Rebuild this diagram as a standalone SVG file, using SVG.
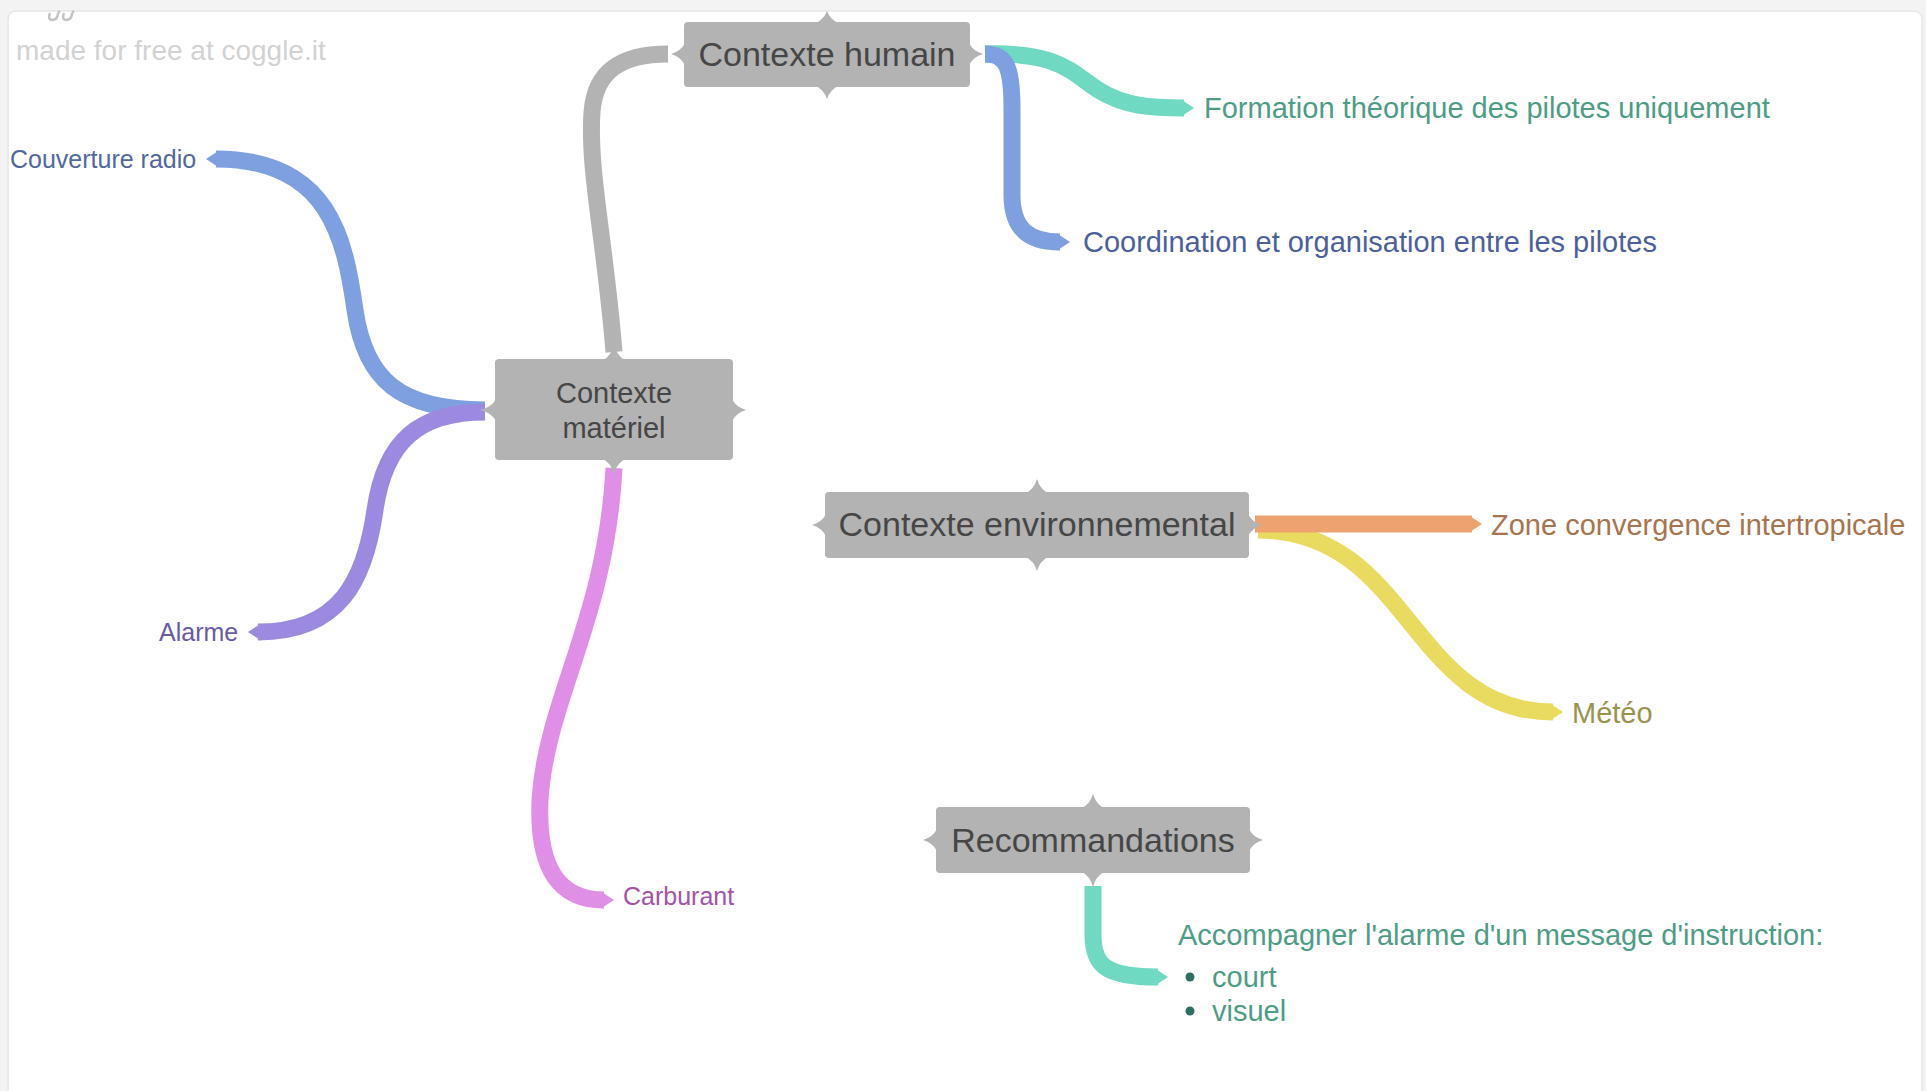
<svg xmlns="http://www.w3.org/2000/svg" width="1926" height="1091" viewBox="0 0 1926 1091">
<defs>
<style>
.bg{fill:#f3f3f3}
.panel{fill:#ffffff;stroke:#e6e6e6;stroke-width:1.5}
.node rect,.node path{fill:#b3b3b3}
.ntext{font-family:"Liberation Sans",Arial,sans-serif;fill:#464646;text-anchor:middle}
.lbl{font-family:"Liberation Sans",Arial,sans-serif;font-size:29px}
.lbls{font-family:"Liberation Sans",Arial,sans-serif;font-size:25px}
.br{fill:none;stroke-width:17;stroke-linecap:butt}
.wm{font-family:"Liberation Sans",Arial,sans-serif;font-size:28px;fill:#d2d2d2}
</style>
</defs>
<rect class="bg" x="0" y="0" width="1926" height="1091"/>
<rect class="panel" x="8" y="11" width="1914" height="1100" rx="8"/>
<g id="watermark">
<path d="M 50 13 Q 47 20 53 20 Q 58 19 58 13 M 58 13 L 60 11 M 64 13 Q 61 20 67 20 Q 72 19 72 13 M 72 13 L 74 11" fill="none" stroke="#c4c4c4" stroke-width="2.5"/>
<text class="wm" x="16" y="60">made for free at coggle.it</text>
</g>
<g id="connectors">
<path class="br" stroke="#b3b3b3" d="M 614 352 C 605 240, 588 170, 592 112 C 595 72, 620 54, 668 54"/>
<path class="br" stroke="#7ea0e0" d="M 485 410 C 400 410, 365 380, 355 310 C 345 240, 330 159, 216 159"/>
<polygon fill="#7ea0e0" points="219,150.5 206,159 219,167.5"/>
<path class="br" stroke="#9b8ae0" d="M 485 412 C 420 412, 385 440, 375 510 C 365 580, 340 632, 258 632"/>
<polygon fill="#9b8ae0" points="261,623.5 248,632 261,640.5"/>
<path class="br" stroke="#e08fe6" d="M 614 468 C 606 620, 546 700, 540 800 C 537 870, 560 900, 604 900"/>
<polygon fill="#e08fe6" points="601,891.5 614,900 601,908.5"/>
<path class="br" stroke="#6fd9c2" d="M 985 54 C 1060 52, 1070 72, 1100 91 C 1125 106, 1150 108, 1184 108"/>
<polygon fill="#6fd9c2" points="1181,99.5 1194,108 1181,116.5"/>
<path class="br" stroke="#7ea0e0" d="M 985 54 C 1008 54, 1012 70, 1012 110 L 1012 195 C 1012 230, 1030 242, 1060 242"/>
<polygon fill="#7ea0e0" points="1057,233.5 1070,242 1057,250.5"/>
<path class="br" stroke="#e8db60" d="M 1258 530 C 1410 530, 1410 712, 1553 712"/>
<polygon fill="#e8db60" points="1550,703.5 1563,712 1550,720.5"/>
<path class="br" stroke="#eea26f" d="M 1255 524 L 1472 524"/>
<polygon fill="#eea26f" points="1469,515.5 1482,524 1469,532.5"/>
<path class="br" stroke="#6fd9c2" d="M 1093 886 L 1093 935 C 1093 966, 1106 977, 1158 977"/>
<polygon fill="#6fd9c2" points="1155,968.5 1168,977 1155,985.5"/>
</g>
<g id="node-humain" class="node">
<rect x="684" y="22" width="286" height="65" rx="4"/>
<path d="M 816 23 Q 824 19 827 11 Q 830 19 838 23 Z"/>
<path d="M 816 86 Q 824 90 827 99 Q 830 90 838 86 Z"/>
<path d="M 685 43 Q 681 51 671 54 Q 681 57 685 65 Z"/>
<path d="M 969 43 Q 973 51 983 54 Q 973 57 969 65 Z"/>
<text class="ntext" x="827" y="66" font-size="34">Contexte humain</text>
</g>
<g id="node-materiel" class="node">
<rect x="495" y="359" width="238" height="101" rx="4"/>
<path d="M 603 360 Q 611 356 614 345 Q 617 356 625 360 Z"/>
<path d="M 603 459 Q 611 463 614 474 Q 617 463 625 459 Z"/>
<path d="M 496 399 Q 492 407 480 410 Q 492 413 496 421 Z"/>
<path d="M 732 399 Q 736 407 746 410 Q 736 413 732 421 Z"/>
<text class="ntext" x="614" y="403" font-size="29">Contexte</text>
<text class="ntext" x="614" y="438" font-size="29">matériel</text>
</g>
<g id="node-env" class="node">
<rect x="825" y="492" width="424" height="66" rx="4"/>
<path d="M 1026 493 Q 1034 489 1037 479 Q 1040 489 1048 493 Z"/>
<path d="M 1026 557 Q 1034 561 1037 571 Q 1040 561 1048 557 Z"/>
<path d="M 826 514 Q 822 522 812 525 Q 822 528 826 536 Z"/>
<path d="M 1248 514 Q 1252 522 1262 525 Q 1252 528 1248 536 Z"/>
<text class="ntext" x="1037" y="536" font-size="34">Contexte environnemental</text>
</g>
<g id="node-reco" class="node">
<rect x="936" y="807" width="314" height="66" rx="4"/>
<path d="M 1082 808 Q 1090 804 1093 794 Q 1096 804 1104 808 Z"/>
<path d="M 1082 872 Q 1090 876 1093 887 Q 1096 876 1104 872 Z"/>
<path d="M 937 829 Q 933 837 923 840 Q 933 843 937 851 Z"/>
<path d="M 1249 829 Q 1253 837 1263 840 Q 1253 843 1249 851 Z"/>
<text class="ntext" x="1093" y="852" font-size="34">Recommandations</text>
</g>
<g id="label-couverture"><text class="lbls" x="10" y="168" fill="#51689e">Couverture radio</text></g>
<g id="label-alarme"><text class="lbls" x="159" y="641" fill="#6a5aa6">Alarme</text></g>
<g id="label-carburant"><text class="lbls" x="623" y="905" fill="#a453a8">Carburant</text></g>
<g id="label-formation"><text class="lbl" x="1204" y="118" fill="#4d9c86">Formation théorique des pilotes uniquement</text></g>
<g id="label-coordination"><text class="lbl" x="1083" y="252" fill="#4c5f9c">Coordination et organisation entre les pilotes</text></g>
<g id="label-zone"><text class="lbl" x="1491" y="535" fill="#a8744e">Zone convergence intertropicale</text></g>
<g id="label-meteo"><text class="lbl" x="1572" y="723" fill="#9a9350">Météo</text></g>
<g id="label-reco">
<text class="lbl" x="1178" y="945" fill="#4d9c86">Accompagner l'alarme d'un message d'instruction:</text>
<circle cx="1190" cy="977" r="4.5" fill="#2f6e60"/>
<text class="lbl" x="1212" y="987" fill="#4d9c86">court</text>
<circle cx="1190" cy="1011" r="4.5" fill="#2f6e60"/>
<text class="lbl" x="1212" y="1021" fill="#4d9c86">visuel</text>
</g>
</svg>
